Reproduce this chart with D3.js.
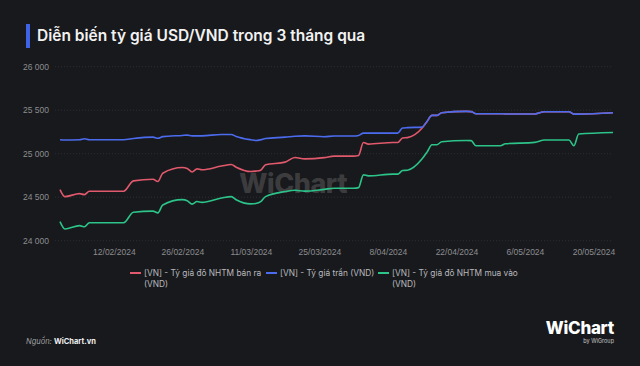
<!DOCTYPE html>
<html>
<head>
<meta charset="utf-8">
<script src="https://cdn.jsdelivr.net/npm/d3@7"></script>
<style>
  html, body { margin: 0; padding: 0; background: #18191c; }
  svg { display: block; font-family: Inter, "Noto Sans", sans-serif; }
</style>
</head>
<body>
<div id="chart"></div>
<script>
// dates
var dates = ["2024-02-01","2024-02-02","2024-02-05","2024-02-06","2024-02-07","2024-02-14","2024-02-16",
  "2024-02-20","2024-02-21","2024-02-22","2024-02-26","2024-02-27","2024-02-28","2024-02-29","2024-03-01",
  "2024-03-05","2024-03-07","2024-03-08","2024-03-11","2024-03-12","2024-03-13","2024-03-14","2024-03-18",
  "2024-03-20","2024-03-22","2024-03-26","2024-03-28","2024-04-01","2024-04-02","2024-04-03","2024-04-04",
  "2024-04-09","2024-04-10","2024-04-11","2024-04-12","2024-04-15","2024-04-16","2024-04-17","2024-04-18",
  "2024-04-19","2024-04-24","2024-04-25","2024-04-26","2024-05-01","2024-05-02","2024-05-08","2024-05-10",
  "2024-05-15","2024-05-16","2024-05-17","2024-05-24"];

var banRa = [24588,24507,24541,24530,24569,24569,24688,
  24707,24680,24776,24841,24830,24790,24826,24815,
  24858,24876,24845,24795,24800,24811,24872,24903,
  24956,24940,24955,24972,24972,24980,25129,25110,
  25129,25129,25180,25185,25295,25371,25440,25440,
  25471,25486,25484,25460,25460,25457,25457,25483,
  25483,25455,25455,25470];

var tran = [25160,25158,25160,25172,25160,25160,25175,
  25191,25178,25196,25210,25214,25205,25205,25205,
  25221,25221,25198,25160,25152,25160,25175,25190,
  25200,25205,25195,25203,25203,25210,25237,25237,
  25237,25237,25295,25300,25306,25371,25440,25440,
  25471,25486,25484,25460,25460,25457,25457,25483,
  25483,25455,25455,25470];

var muaVao = [24219,24135,24173,24160,24207,24207,24327,
  24340,24320,24411,24472,24460,24420,24450,24440,
  24490,24507,24470,24423,24428,24449,24507,24565,
  24580,24570,24590,24603,24603,24610,24757,24745,
  24765,24765,24806,24810,24941,25018,25103,25103,
  25137,25152,25150,25091,25091,25114,25130,25157,
  25157,25091,25226,25244];

var yTicks = [24000, 24500, 25000, 25500, 26000];
var xTicks = ["2024-02-12","2024-02-26","2024-03-11","2024-03-25","2024-04-08","2024-04-22","2024-05-06","2024-05-20"];

var series = [
  {name: "[VN] - Tỷ giá đô NHTM bán ra", name2: "(VND)", values: banRa, color: "#e0596c"},
  {name: "[VN] - Tỷ giá trần (VND)", name2: "", values: tran, color: "#4c6cf0"},
  {name: "[VN] - Tỷ giá đô NHTM mua vào", name2: "(VND)", values: muaVao, color: "#2cc489"}
];

var width = 640, height = 366;
var parse = d3.timeParse("%Y-%m-%d");
var fmt = function(d) { return d.getDate() + "/" + d3.timeFormat("%m/%Y")(d); };
var fmtNum = function(v) { return d3.format(",")(v).replace(/,/g, " "); };

var svg = d3.select("#chart").append("svg")
  .attr("width", width)
  .attr("height", height);

svg.append("rect").attr("width", width).attr("height", height).attr("fill", "#18191c");

// title
svg.append("rect").attr("x", 26).attr("y", 24).attr("width", 4).attr("height", 24).attr("fill", "#3f63e6");
svg.append("text")
  .attr("x", 37).attr("y", 41)
  .attr("fill", "#f2f2f2")
  .style("font-size", "15.5px")
  .style("font-weight", 600)
  .text("Diễn biến tỷ giá USD/VND trong 3 tháng qua");

var xScale = d3.scaleTime()
  .domain(d3.extent(dates, parse))
  .range([60, 613]);

var yScale = d3.scaleLinear()
  .domain([24000, 26000])
  .range([240.7, 66.7]);

// y axis + dotted grid
var yAxis = d3.axisLeft(yScale).tickValues(yTicks).tickSize(0).tickFormat(fmtNum);
var gy = svg.append("g").attr("transform", "translate(49,0)").call(yAxis);
gy.select(".domain").remove();
gy.selectAll("text").attr("fill", "#8c8d91").style("font-size", "8.5px").attr("x", 0);

svg.append("g").selectAll("line")
  .data(yTicks)
  .enter().append("line")
  .attr("x1", 55).attr("x2", 613)
  .attr("y1", function(d) { return yScale(d); })
  .attr("y2", function(d) { return yScale(d); })
  .attr("stroke", "#2d2e33")
  .attr("stroke-width", 1)
  .attr("stroke-dasharray", "1,2");

// x axis
var xAxis = d3.axisBottom(xScale).tickValues(xTicks.map(parse)).tickSize(0).tickFormat(fmt);
var gx = svg.append("g").attr("transform", "translate(0,246)").call(xAxis);
gx.select(".domain").remove();
gx.selectAll("text").attr("fill", "#8c8d91").style("font-size", "8.5px");

// watermark
svg.append("text")
  .attr("x", 293).attr("y", 193)
  .attr("text-anchor", "middle")
  .attr("fill", "#ffffff")
  .attr("fill-opacity", 0.16)
  .style("font-size", "27px")
  .style("font-weight", 800)
  .style("letter-spacing", "-0.5px")
  .text("WiChart");

// lines
var line = d3.line()
  .x(function(d) { return xScale(d.date); })
  .y(function(d) { return yScale(d.value); })
  .curve(d3.curveMonotoneX);

[0, 2, 1].forEach(function(i) {
  var s = series[i];
  var pts = dates.map(function(d, j) { return {date: parse(d), value: s.values[j]}; });
  svg.append("path")
    .datum(pts)
    .attr("fill", "none")
    .attr("stroke", s.color)
    .attr("stroke-width", 1.6)
    .attr("stroke-linejoin", "round")
    .attr("d", line);
});

// legend
var legendX = [130, 266, 378];
var legend = svg.append("g");
series.forEach(function(s, i) {
  var g = legend.append("g").attr("transform", "translate(" + legendX[i] + ",0)");
  g.append("line").attr("x1", 0).attr("x2", 11).attr("y1", 273).attr("y2", 273)
    .attr("stroke", s.color).attr("stroke-width", 2);
  g.append("text").attr("x", 14).attr("y", 276).attr("fill", "#b9babe")
    .style("font-size", "8.3px").text(s.name);
  if (s.name2) {
    g.append("text").attr("x", 14).attr("y", 287).attr("fill", "#b9babe")
      .style("font-size", "8.3px").text(s.name2);
  }
});

// footer
var src = svg.append("text").attr("x", 26).attr("y", 344).style("font-size", "7.5px");
src.append("tspan").attr("fill", "#a0a1a5").style("font-style", "italic").text("Nguồn: ");
src.append("tspan").attr("fill", "#f0f0f0").style("font-weight", 700).text("WiChart.vn");

svg.append("text")
  .attr("x", 614).attr("y", 334)
  .attr("text-anchor", "end")
  .attr("fill", "#ffffff")
  .style("font-size", "17px")
  .style("font-weight", 800)
  .style("letter-spacing", "-0.3px")
  .text("WiChart");
svg.append("text")
  .attr("x", 614).attr("y", 343)
  .attr("text-anchor", "end")
  .attr("fill", "#c8c8c8")
  .style("font-size", "5.5px")
  .text("by WiGroup");
</script>
</body>
</html>
